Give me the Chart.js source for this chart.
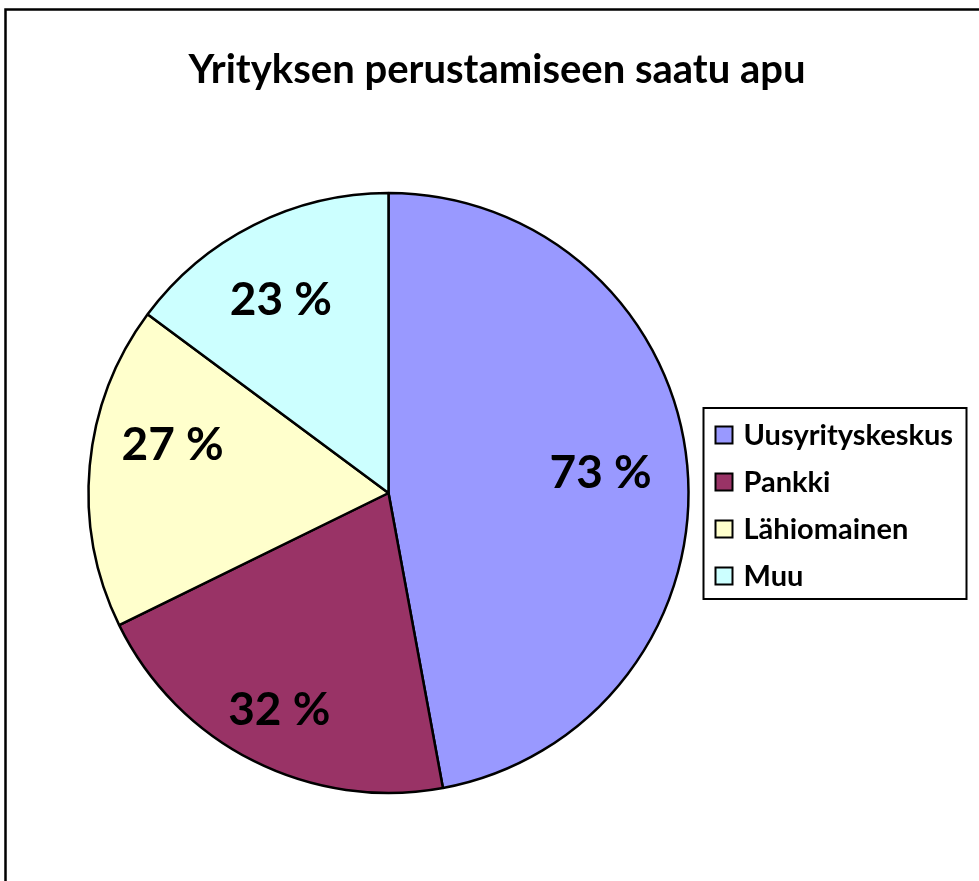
<!DOCTYPE html>
<html>
<head>
<meta charset="utf-8">
<script src="https://cdn.jsdelivr.net/npm/chart.js@4/dist/chart.umd.min.js"></script>
<style>
  html, body { margin: 0; padding: 0; background: #fff; overflow: hidden; }
  canvas { display: block; }
</style>
</head>
<body>
<canvas id="c" width="979" height="881"></canvas>
<script>
const chartTitle = "Yrityksen perustamiseen saatu apu";
const categories = ["Uusyrityskeskus", "Pankki", "Lähiomainen", "Muu"];
const values = [73, 32, 27, 23];
const sliceColors = ["#9999FF", "#993366", "#FFFFCC", "#CCFFFF"];

const FONT = "Lato, 'Open Sans', 'Liberation Sans', sans-serif";

const framePlugin = {
  id: 'frame',
  beforeDraw(chart) {
    const ctx = chart.ctx;
    ctx.save();
    ctx.fillStyle = '#fff';
    ctx.fillRect(0, 0, chart.width, chart.height);
    ctx.strokeStyle = '#000';
    ctx.lineWidth = 2.5;
    ctx.strokeRect(5.5, 9.5, 1200, 1200);
    ctx.fillStyle = '#000';
    ctx.font = "bold 40px " + FONT;
    ctx.textAlign = 'center';
    ctx.textBaseline = 'alphabetic';
    ctx.fillText(chartTitle, 497, 83);
    ctx.restore();
  }
};

const labelPlugin = {
  id: 'sliceLabels',
  afterDatasetsDraw(chart, args, opts) {
    const ctx = chart.ctx;
    const meta = chart.getDatasetMeta(0);
    ctx.save();
    ctx.fillStyle = '#000';
    ctx.font = "bold 46px " + FONT;
    ctx.textAlign = 'center';
    ctx.textBaseline = 'middle';
    meta.data.forEach((arc, i) => {
      const p = arc.getProps(['x', 'y', 'startAngle', 'endAngle', 'outerRadius'], true);
      const mid = (p.startAngle + p.endAngle) / 2 + opts.shifts[i];
      const r = p.outerRadius * opts.radii[i];
      ctx.fillText(chart.data.datasets[0].data[i] + ' %', p.x + Math.cos(mid) * r, p.y + Math.sin(mid) * r);
    });
    ctx.restore();
  }
};

const legendPlugin = {
  id: 'boxLegend',
  afterDraw(chart, args, opts) {
    const ctx = chart.ctx;
    const ds = chart.data.datasets[0];
    ctx.save();
    ctx.strokeStyle = '#000';
    ctx.lineWidth = 2;
    ctx.strokeRect(opts.x, opts.y, opts.w, opts.h);
    ctx.font = "bold 29px " + FONT;
    ctx.textAlign = 'left';
    ctx.textBaseline = 'middle';
    chart.data.labels.forEach((lab, i) => {
      const cy = opts.firstRow + i * opts.rowGap;
      ctx.fillStyle = ds.backgroundColor[i];
      ctx.fillRect(opts.x + 12, cy - 8.5, 17, 17);
      ctx.lineWidth = 2;
      ctx.strokeRect(opts.x + 12, cy - 8.5, 17, 17);
      ctx.fillStyle = '#000';
      ctx.fillText(lab, opts.x + 40, cy + 1);
    });
    ctx.restore();
  }
};

new Chart(document.getElementById('c'), {
  type: 'pie',
  data: {
    labels: categories,
    datasets: [{
      data: values,
      backgroundColor: sliceColors,
      borderColor: '#000',
      borderWidth: 2.5
    }]
  },
  options: {
    responsive: false,
    animation: false,
    devicePixelRatio: 1,
    radius: 300,
    layout: { padding: { left: 0, right: 202, top: 105, bottom: 0 } },
    plugins: {
      legend: { display: false },
      tooltip: { enabled: false },
      title: { display: false },
      sliceLabels: { radii: [0.71, 0.81, 0.737, 0.735], shifts: [0, 0, 0.126, -0.044] },
      boxLegend: { x: 703.5, y: 408, w: 263, h: 191, firstRow: 435, rowGap: 47 }
    }
  },
  plugins: [framePlugin, labelPlugin, legendPlugin]
});
</script>
</body>
</html>
